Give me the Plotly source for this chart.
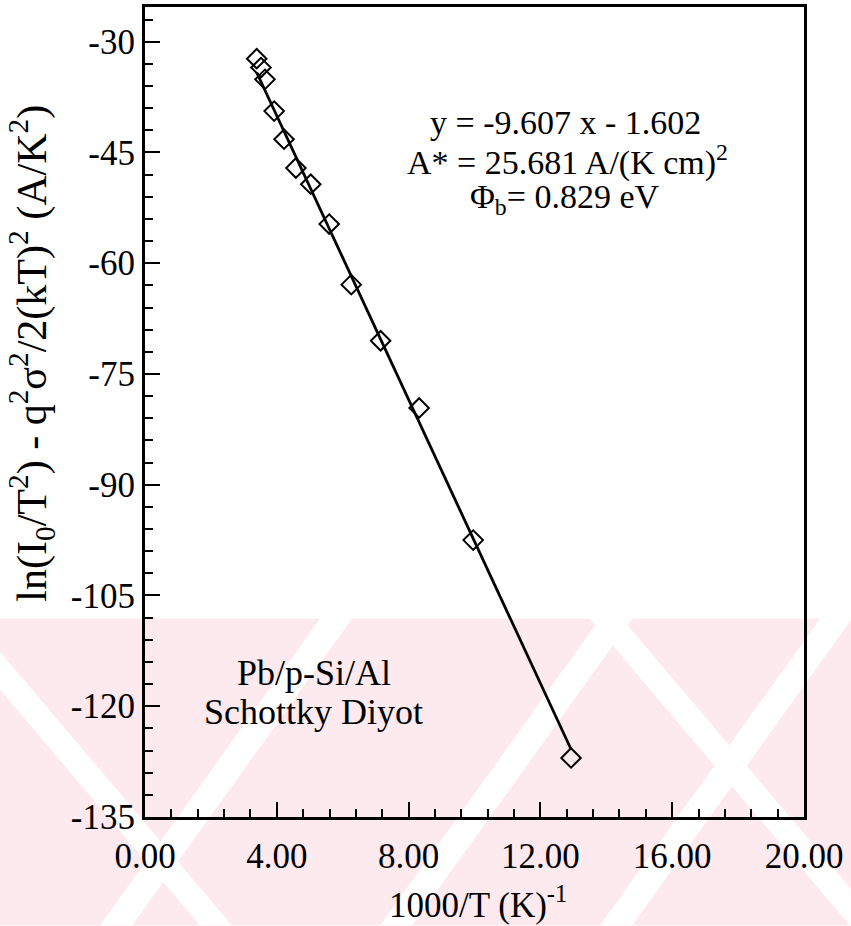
import plotly.graph_objects as go
import numpy as np

# ---- data ----
inv_T = [3.39, 3.52, 3.64, 3.92, 4.22, 4.58, 5.03, 5.59, 6.26, 7.15, 8.32, 9.96, 12.93]
ln_term = [-32.3, -33.5, -35.1, -39.4, -43.2, -47.1, -49.3, -54.7, -62.9, -70.5, -79.6, -97.5, -127.0]
fit_slope = -9.607
fit_intercept = -1.602
x_tick_vals = [0, 4, 8, 12, 16, 20]
x_tick_text = ["0.00", "4.00", "8.00", "12.00", "16.00", "20.00"]
y_tick_vals = [-30, -45, -60, -75, -90, -105, -120, -135]
y_tick_text = ["-30", "-45", "-60", "-75", "-90", "-105", "-120", "-135"]

FONT = "Liberation Serif"
W, H = 851, 926
ML, MR, MT, MB = 145, 47, 4, 109
PW, PH = W - ML - MR, H - MT - MB


def px2paper(px, py):
    return (px - ML) / PW, (H - MB - py) / PH


fig = go.Figure()

xf = np.array([min(inv_T), max(inv_T)])
fig.add_trace(go.Scatter(x=xf, y=fit_slope * xf + fit_intercept, mode="lines",
                         line=dict(color="black", width=2.8), showlegend=False,
                         hoverinfo="skip"))
fig.add_trace(go.Scatter(x=inv_T, y=ln_term, mode="markers",
                         marker=dict(symbol="diamond-open", size=15,
                                     color="black", line=dict(width=2, color="black")),
                         showlegend=False))

# ---- watermark (background decoration) ----
shapes = []
x0, y0 = px2paper(0, 618)
x1, y1 = px2paper(W, H)
shapes.append(dict(type="rect", xref="paper", yref="paper", x0=x0, y0=y0, x1=x1, y1=y1,
                   fillcolor="rgb(252,234,238)", line=dict(width=0), layer="below"))


def band(pts):
    conv = [px2paper(a, b) for a, b in pts]
    path = "M " + " L ".join(f"{a:.4f},{b:.4f}" for a, b in conv) + " Z"
    return dict(type="path", xref="paper", yref="paper", path=path,
                fillcolor="white", line=dict(width=0), layer="below")


# "/" bands
for xb in [100, 380, 600]:
    shapes.append(band([(xb, H), (xb + 32, H), (xb + 32 + 220, 618), (xb + 220, 618)]))
# "\" bands
for xt in [-60, 590]:
    shapes.append(band([(xt, 618), (xt + 32, 618), (xt + 32 + 260, H), (xt + 260, H)]))

annotations = []
for txt, (px, py) in [("y = -9.607 x - 1.602", (565, 120)),
                      ("A* = 25.681 A/(K cm)<sup>2</sup>", (567, 158)),
                      ("Φ<sub>b</sub>= 0.829 eV", (565, 197))]:
    xp, yp = px2paper(px, py)
    annotations.append(dict(text=txt, x=xp, y=yp, xref="paper", yref="paper", showarrow=False,
                            xanchor="center", yanchor="middle",
                            font=dict(family=FONT, size=34, color="black")))

for txt, (px, py) in [("Pb/p-Si/Al", (314, 672)), ("Schottky Diyot", (313, 712))]:
    xp, yp = px2paper(px, py)
    annotations.append(dict(text=txt, x=xp, y=yp, xref="paper", yref="paper", showarrow=False,
                            xanchor="center", yanchor="middle",
                            font=dict(family=FONT, size=36, color="black")))

xp, yp = px2paper(478, 903)
annotations.append(dict(text="1000/T (K)<sup>-1</sup>", x=xp, y=yp, xref="paper", yref="paper",
                        showarrow=False, xanchor="center", yanchor="middle",
                        font=dict(family=FONT, size=35, color="black")))
xp, yp = px2paper(31, 352)
annotations.append(dict(text="ln(I<sub>0</sub>/T<sup>2</sup>) - q<sup>2</sup>σ<sup>2</sup>/2(kT)<sup>2</sup> (A/K<sup>2</sup>)",
                        x=xp, y=yp, xref="paper", yref="paper", textangle=-90,
                        showarrow=False, xanchor="center", yanchor="middle",
                        font=dict(family=FONT, size=42, color="black")))

fig.update_layout(
    width=W, height=H,
    margin=dict(l=ML, r=MR, t=MT, b=MB),
    paper_bgcolor="white", plot_bgcolor="rgba(0,0,0,0)",
    shapes=shapes, annotations=annotations,
    font=dict(family=FONT, color="black"),
)
fig.update_xaxes(range=[0, 20], tickmode="array", tickvals=x_tick_vals, ticktext=x_tick_text,
                 ticks="inside", ticklen=15, tickwidth=2, tickcolor="black",
                 minor=dict(ticks="inside", dtick=0.8, tick0=0, ticklen=8, tickwidth=2, tickcolor="black"),
                 showgrid=False, zeroline=False, showline=True, linewidth=3, linecolor="black",
                 mirror=True, tickfont=dict(family=FONT, size=35, color="black"),
                 ticklabelstandoff=6)
fig.update_yaxes(range=[-135, -25.3], tickmode="array", tickvals=y_tick_vals, ticktext=y_tick_text,
                 ticks="inside", ticklen=15, tickwidth=2, tickcolor="black",
                 minor=dict(ticks="inside", dtick=3, tick0=-135, ticklen=8, tickwidth=2, tickcolor="black"),
                 showgrid=False, zeroline=False, showline=True, linewidth=3, linecolor="black",
                 mirror=True, tickfont=dict(family=FONT, size=35, color="black"),
                 ticklabelstandoff=0)

fig.write_html("out.html", config={"displayModeBar": False},
               post_script="document.body.style.margin='0';")
